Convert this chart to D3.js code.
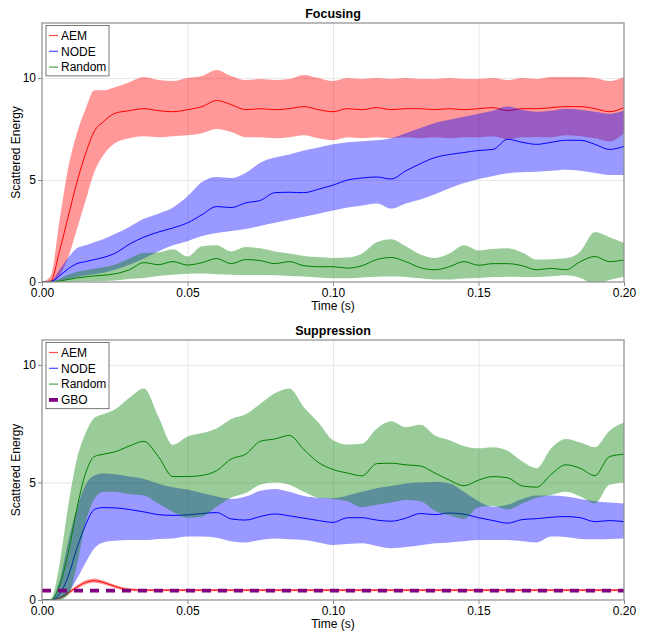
<!DOCTYPE html>
<html>
<head>
<meta charset="utf-8">
<script src="https://cdn.jsdelivr.net/npm/d3@7"></script>
<style>
  body { margin: 0; background: #fff; }
  text { font-family: "Liberation Sans", Arial, sans-serif; }
</style>
</head>
<body>
<svg id="chart"></svg>
<script>
// time grid shared by every series (s)
const times = [0, 0.003, 0.006, 0.009, 0.012, 0.015, 0.018, 0.021, 0.025, 0.030, 0.035, 0.040, 0.045, 0.050,
  0.055, 0.060, 0.065, 0.070, 0.075, 0.080, 0.085, 0.090, 0.095, 0.100, 0.105, 0.110, 0.115, 0.120, 0.125,
  0.130, 0.135, 0.140, 0.145, 0.150, 0.155, 0.160, 0.165, 0.170, 0.175, 0.180, 0.185, 0.190, 0.195, 0.200];

// ---- Focusing ----
const focAemMean = [0, 0.05, 1.5, 3.2, 4.9, 6.3, 7.4, 7.85, 8.27, 8.4, 8.5, 8.4, 8.35, 8.45, 8.6, 8.9, 8.7, 8.45, 8.5, 8.45,
  8.5, 8.6, 8.45, 8.35, 8.5, 8.45, 8.55, 8.45, 8.5, 8.5, 8.45, 8.5, 8.45, 8.5, 8.55, 8.4, 8.5, 8.5, 8.55, 8.6, 8.6, 8.5, 8.35, 8.55];
const focAemHi = [0, 0.3, 3.0, 5.6, 7.3, 8.5, 9.4, 9.4, 9.55, 9.8, 10.05, 9.9, 9.85, 10.0, 10.1, 10.4, 10.1, 9.9, 9.95, 9.9,
  9.95, 10.15, 10.0, 9.85, 10.0, 9.95, 10.0, 9.95, 10.0, 9.95, 9.95, 10.0, 9.95, 9.95, 10.0, 9.9, 10.0, 9.95, 10.05, 10.05, 10.05, 10.0, 9.85, 10.05];
const focAemLo = [0, 0, 0.3, 1.2, 2.6, 4.0, 5.4, 6.2, 6.8, 7.05, 7.15, 7.1, 7.15, 7.2, 7.3, 7.5, 7.35, 7.1, 7.1, 7.05,
  7.1, 7.2, 7.05, 6.95, 7.1, 7.05, 7.1, 7.05, 7.1, 7.05, 7.1, 7.05, 7.1, 7.1, 7.15, 7.0, 7.1, 7.1, 7.1, 7.2, 7.15, 7.05, 6.9, 7.3];

const focNodeMean = [0, 0.02, 0.3, 0.65, 0.9, 1.0, 1.1, 1.2, 1.4, 1.85, 2.2, 2.45, 2.65, 2.9, 3.3, 3.7, 3.65, 3.88, 4.0, 4.38,
  4.4, 4.38, 4.55, 4.75, 5.0, 5.1, 5.15, 5.05, 5.45, 5.8, 6.1, 6.25, 6.35, 6.45, 6.5, 7.0, 6.85, 6.75, 6.85, 6.95, 6.95, 6.75, 6.5, 6.65];
const focNodeHi = [0, 0.05, 0.6, 1.2, 1.65, 1.8, 1.95, 2.1, 2.35, 2.7, 3.1, 3.35, 3.65, 4.2, 4.9, 5.15, 5.1, 5.35, 5.85, 6.1,
  6.25, 6.45, 6.6, 6.75, 6.85, 6.9, 6.95, 7.05, 7.3, 7.55, 7.8, 7.95, 8.1, 8.25, 8.4, 8.6, 8.45, 8.35, 8.4, 8.5, 8.45, 8.35, 8.25, 8.4];
const focNodeLo = [0, 0, 0.05, 0.15, 0.25, 0.32, 0.38, 0.45, 0.6, 0.85, 1.15, 1.5, 1.8, 2.0, 2.25, 2.4, 2.5, 2.6, 2.75, 2.9,
  3.05, 3.2, 3.35, 3.5, 3.65, 3.75, 3.85, 3.6, 3.85, 4.05, 4.3, 4.6, 4.85, 5.05, 5.2, 5.33, 5.38, 5.4, 5.45, 5.5, 5.45, 5.35, 5.25, 5.25];

const focRandMean = [0, 0, 0.05, 0.12, 0.2, 0.25, 0.3, 0.33, 0.4, 0.6, 0.95, 0.85, 1.0, 0.83, 0.95, 1.15, 0.9, 1.1, 1.05, 0.9,
  1.0, 0.8, 0.75, 0.75, 0.68, 0.8, 1.1, 1.2, 1.0, 0.7, 0.6, 0.75, 1.0, 0.82, 0.9, 0.9, 0.8, 0.6, 0.67, 0.6, 1.0, 1.25, 1.0, 1.08];
const focRandHi = [0, 0.02, 0.15, 0.35, 0.5, 0.58, 0.65, 0.72, 0.85, 1.15, 1.42, 1.45, 1.6, 1.25, 1.75, 1.8, 1.5, 1.72, 1.65, 1.5,
  1.4, 1.28, 1.22, 1.18, 1.2, 1.4, 1.95, 2.1, 1.75, 1.35, 1.18, 1.4, 1.8, 1.55, 1.62, 1.65, 1.45, 1.1, 1.12, 1.16, 1.5, 2.45, 2.2, 1.93];
const focRandLo = [0, 0, 0, 0, 0.02, 0.03, 0.04, 0.05, 0.07, 0.15, 0.2, 0.3, 0.35, 0.4, 0.42, 0.38, 0.35, 0.34, 0.34, 0.33,
  0.3, 0.27, 0.22, 0.18, 0.18, 0.22, 0.26, 0.27, 0.25, 0.18, 0.12, 0.12, 0.17, 0.2, 0.24, 0.26, 0.25, 0.24, 0.28, 0.33, 0.2, -0.1, 0.1, 0.26];

// ---- Suppression ----
const supAemMean = [0, 0, 0.08, 0.3, 0.55, 0.75, 0.82, 0.75, 0.58, 0.44, 0.42, 0.42, 0.42, 0.42, 0.42, 0.42, 0.42, 0.42, 0.42, 0.42,
  0.42, 0.42, 0.42, 0.42, 0.42, 0.42, 0.42, 0.42, 0.42, 0.42, 0.42, 0.42, 0.42, 0.42, 0.42, 0.42, 0.42, 0.42, 0.42, 0.42, 0.42, 0.42, 0.42, 0.42];
const supAemHi = [0, 0, 0.12, 0.37, 0.63, 0.84, 0.91, 0.83, 0.65, 0.5, 0.47, 0.47, 0.47, 0.47, 0.47, 0.47, 0.47, 0.47, 0.47, 0.47,
  0.47, 0.47, 0.47, 0.47, 0.47, 0.47, 0.47, 0.47, 0.47, 0.47, 0.47, 0.47, 0.47, 0.47, 0.47, 0.47, 0.47, 0.47, 0.47, 0.47, 0.47, 0.47, 0.47, 0.47];
const supAemLo = [0, 0, 0.04, 0.23, 0.47, 0.66, 0.73, 0.67, 0.51, 0.38, 0.37, 0.37, 0.37, 0.37, 0.37, 0.37, 0.37, 0.37, 0.37, 0.37,
  0.37, 0.37, 0.37, 0.37, 0.37, 0.37, 0.37, 0.37, 0.37, 0.37, 0.37, 0.37, 0.37, 0.37, 0.37, 0.37, 0.37, 0.37, 0.37, 0.37, 0.37, 0.37, 0.37, 0.37];

const supNodeMean = [0, 0, 0.25, 1.0, 2.2, 3.2, 3.85, 3.93, 3.92, 3.85, 3.75, 3.63, 3.6, 3.62, 3.68, 3.72, 3.45, 3.4, 3.55, 3.66,
  3.58, 3.48, 3.38, 3.3, 3.5, 3.5, 3.4, 3.35, 3.48, 3.68, 3.63, 3.7, 3.65, 3.5, 3.38, 3.27, 3.42, 3.46, 3.52, 3.55, 3.5, 3.33, 3.38, 3.33];
const supNodeHi = [0, 0.02, 0.8, 2.5, 3.9, 4.9, 5.3, 5.38, 5.35, 5.25, 5.15, 4.95, 4.8, 4.7, 4.55, 4.4, 4.3, 4.4, 4.65, 4.72,
  4.6, 4.42, 4.35, 4.33, 4.45, 4.6, 4.75, 4.85, 4.96, 5.0, 5.02, 4.96, 4.6, 4.2, 3.97, 4.05, 4.3, 4.45, 4.45, 4.4, 4.3, 4.2, 4.15, 4.1];
const supNodeLo = [0, 0, 0.05, 0.3, 0.9, 1.6, 2.2, 2.45, 2.52, 2.55, 2.55, 2.6, 2.62, 2.7, 2.7, 2.65, 2.5, 2.45, 2.55, 2.62,
  2.58, 2.55, 2.45, 2.34, 2.38, 2.41, 2.3, 2.2, 2.25, 2.33, 2.41, 2.45, 2.5, 2.55, 2.55, 2.55, 2.5, 2.45, 2.7, 2.68, 2.6, 2.58, 2.6, 2.62];

const supRandMean = [0, 0, 0.6, 2.0, 3.9, 5.4, 6.1, 6.2, 6.3, 6.55, 6.75, 6.1, 5.25, 5.25, 5.3, 5.5, 6.0, 6.2, 6.75, 6.85,
  7.0, 6.4, 5.85, 5.55, 5.4, 5.28, 5.8, 5.82, 5.75, 5.7, 5.4, 5.1, 4.86, 5.1, 5.25, 5.2, 4.85, 4.8, 5.35, 5.75, 5.6, 5.29, 6.1, 6.2];
const supRandHi = [0, 0.05, 1.5, 4.0, 6.0, 7.1, 7.75, 7.9, 8.1, 8.6, 9.0, 7.8, 6.6, 6.95, 7.1, 7.3, 7.7, 7.9, 8.35, 8.8,
  9.0, 8.2, 7.55, 6.8, 6.62, 6.65, 7.28, 7.6, 7.35, 7.45, 7.0, 6.8, 6.55, 6.45, 6.5, 6.35, 5.9, 5.6, 6.45, 6.85, 6.7, 6.5, 7.2, 7.55];
const supRandLo = [0, 0, 0, 0.2, 1.5, 3.3, 4.3, 4.6, 4.6, 4.5, 4.45, 4.1, 3.75, 3.5, 3.55, 3.97, 4.35, 4.55, 4.9, 5.0,
  4.9, 4.6, 4.35, 4.3, 4.2, 3.95, 4.05, 4.15, 4.25, 4.2, 3.8, 3.6, 3.45, 3.95, 4.0, 3.85, 4.1, 4.35, 4.47, 4.6, 4.4, 4.1, 4.9, 5.0];

const gboTimes = [0, 0.2];
const gboValue = [0.4, 0.4];

const xTicks = [0, 0.05, 0.10, 0.15, 0.20];
const yTicks = [0, 5, 10];

const seriesColor = { AEM: '#ff0000', NODE: '#0000ff', Random: '#008000', GBO: '#800080' };

class EnergyPanel {
  constructor(_config, _series, _gbo) {
    this.config = _config;
    this.series = _series;
    this.gbo = _gbo;
    this.initVis();
  }

  initVis() {
    let vis = this;
    const c = vis.config;
    vis.width = c.right - c.left;
    vis.height = c.bottom - c.top;

    vis.xScale = d3.scaleLinear().domain([0, 0.2]).range([0, vis.width]);
    vis.yScale = d3.scaleLinear().domain([0, c.yMax]).range([vis.height, 0]);

    vis.chart = d3.select('#chart').append('g')
        .attr('transform', `translate(${c.left},${c.top})`);

    // grid lines
    vis.chart.append('g')
        .call(d3.axisBottom(vis.xScale).tickValues(xTicks.slice(1, -1)).tickSize(vis.height).tickFormat(''))
        .call(g => g.select('.domain').remove())
        .selectAll('line').attr('stroke', '#e8e8e8');
    vis.chart.append('g')
        .call(d3.axisLeft(vis.yScale).tickValues(yTicks.slice(1)).tickSize(-vis.width).tickFormat(''))
        .call(g => g.select('.domain').remove())
        .selectAll('line').attr('stroke', '#e8e8e8');

    vis.clipId = 'clip-' + c.name;
    vis.chart.append('clipPath').attr('id', vis.clipId)
      .append('rect').attr('width', vis.width).attr('height', vis.height);
    vis.marks = vis.chart.append('g').attr('clip-path', `url(#${vis.clipId})`);

    // axes
    vis.xAxisG = vis.chart.append('g')
        .attr('transform', `translate(0,${vis.height})`)
        .call(d3.axisBottom(vis.xScale).tickValues(xTicks).tickFormat(d3.format('.2f')).tickSize(4).tickPadding(2));
    vis.yAxisG = vis.chart.append('g')
        .call(d3.axisLeft(vis.yScale).tickValues(yTicks).tickFormat(d3.format('d')).tickSize(4).tickPadding(2));
    [vis.xAxisG, vis.yAxisG].forEach(g => {
      g.select('.domain').remove();
      g.selectAll('line').attr('stroke', '#8c8c8c');
      g.selectAll('text').attr('fill', '#000').style('font-size', '12px')
        .style('font-family', '"Liberation Sans", Arial, sans-serif');
    });

    vis.chart.append('text')
        .attr('x', vis.width / 2).attr('y', vis.height + 28)
        .attr('text-anchor', 'middle').style('font-size', '12px')
        .text('Time (s)');
    vis.chart.append('text')
        .attr('transform', `translate(${20 - c.left},${vis.height / 2}) rotate(-90)`)
        .attr('text-anchor', 'middle').style('font-size', '12px')
        .text('Scattered Energy');
    vis.chart.append('text')
        .attr('x', vis.width / 2).attr('y', -5)
        .attr('text-anchor', 'middle').style('font-size', '12.5px').style('font-weight', 'bold')
        .text(c.title);
  }

  renderVis() {
    let vis = this;
    const area = d3.area()
        .x((d, i) => vis.xScale(times[i]))
        .y0(d => vis.yScale(d[0]))
        .y1(d => vis.yScale(d[1]))
        .curve(d3.curveMonotoneX);
    const line = d3.line()
        .x(d => vis.xScale(d[0]))
        .y(d => vis.yScale(d[1]))
        .curve(d3.curveMonotoneX);

    vis.series.forEach(s => {
      vis.marks.append('path')
          .datum(d3.zip(s.lo, s.hi))
          .attr('d', area)
          .attr('fill', seriesColor[s.name])
          .attr('fill-opacity', 0.4);
      vis.marks.append('path')
          .datum(d3.zip(times, s.mean))
          .attr('d', line)
          .attr('fill', 'none')
          .attr('stroke', seriesColor[s.name])
          .attr('stroke-width', 1);
    });

    if (vis.gbo) {
      vis.marks.append('path')
          .datum(d3.zip(gboTimes, gboValue))
          .attr('d', line)
          .attr('fill', 'none')
          .attr('stroke', seriesColor.GBO)
          .attr('stroke-width', 3.8)
          .attr('stroke-dasharray', '9,7');
    }

    // frame
    vis.chart.append('rect')
        .attr('width', vis.width).attr('height', vis.height)
        .attr('fill', 'none').attr('stroke', '#8c8c8c').attr('stroke-width', 1.2);

    // legend
    const names = vis.series.map(s => s.name).concat(vis.gbo ? ['GBO'] : []);
    const lg = vis.chart.append('g').attr('transform', 'translate(4,2.5)');
    lg.append('rect')
        .attr('width', 63).attr('height', names.length * 15.8 + 3)
        .attr('fill', '#fff').attr('stroke', '#555').attr('stroke-width', 0.8);
    names.forEach((n, i) => {
      const y = 10 + i * 15.8;
      lg.append('line')
          .attr('x1', 3).attr('x2', 12).attr('y1', y).attr('y2', y)
          .attr('stroke', seriesColor[n])
          .attr('stroke-opacity', n === 'GBO' ? 1 : 0.7)
          .attr('stroke-width', n === 'GBO' ? 3.8 : 1.2);
      lg.append('text')
          .attr('x', 15).attr('y', y + 4.3)
          .style('font-size', '12px')
          .text(n);
    });
  }
}

d3.select('#chart').attr('width', 649).attr('height', 633);

const focusing = new EnergyPanel(
  { name: 'focusing', title: 'Focusing', left: 42, right: 624, top: 23, bottom: 282, yMax: 12.7 },
  [
    { name: 'AEM', mean: focAemMean, lo: focAemLo, hi: focAemHi },
    { name: 'NODE', mean: focNodeMean, lo: focNodeLo, hi: focNodeHi },
    { name: 'Random', mean: focRandMean, lo: focRandLo, hi: focRandHi }
  ], false);
focusing.renderVis();

const suppression = new EnergyPanel(
  { name: 'suppression', title: 'Suppression', left: 42, right: 624, top: 340, bottom: 600, yMax: 11.06 },
  [
    { name: 'AEM', mean: supAemMean, lo: supAemLo, hi: supAemHi },
    { name: 'NODE', mean: supNodeMean, lo: supNodeLo, hi: supNodeHi },
    { name: 'Random', mean: supRandMean, lo: supRandLo, hi: supRandHi }
  ], true);
suppression.renderVis();
</script>
</body>
</html>
